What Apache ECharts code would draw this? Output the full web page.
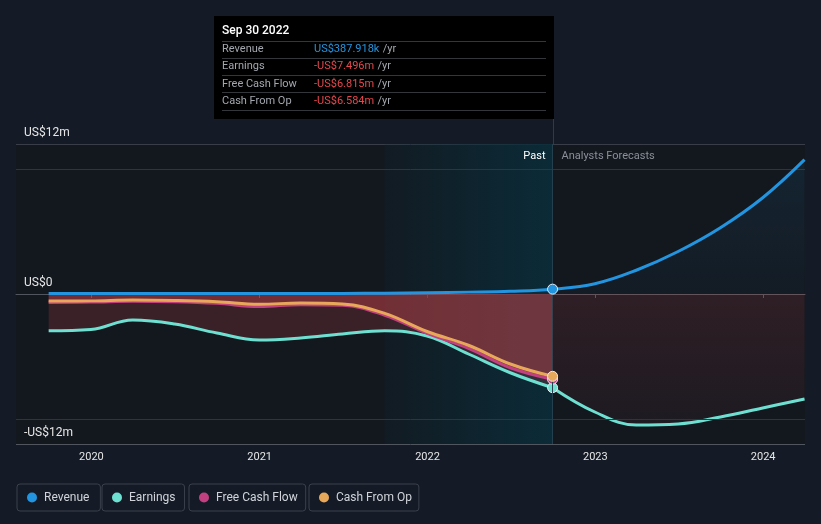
<!DOCTYPE html>
<html><head><meta charset="utf-8">
<script src="https://cdn.jsdelivr.net/npm/echarts@6/dist/echarts.min.js"></script>
<style>html,body{margin:0;padding:0;background:#151b26;}#c{width:821px;height:524px;}</style>
</head><body><div id="c"></div>
<script>
// ---- data (US$ millions) ----
const pastDates = ['2019-09-30','2019-12-31','2020-03-31','2020-06-30','2020-09-30','2020-12-31','2021-03-31','2021-06-30','2021-09-30','2021-12-31','2022-03-31','2022-06-30','2022-09-30'];
const revenuePast = [0.05,0.05,0.05,0.05,0.05,0.05,0.05,0.05,0.06,0.1,0.15,0.22,0.388];
const earningsPast = [-2.94,-2.84,-2.08,-2.4,-3.12,-3.68,-3.52,-3.2,-2.94,-3.36,-4.8,-6.3,-7.496];
const fcfPast = [-0.68,-0.65,-0.58,-0.62,-0.75,-1.0,-0.85,-0.9,-1.7,-3.15,-4.35,-5.9,-6.815];
const cfoPast = [-0.56,-0.55,-0.48,-0.52,-0.62,-0.82,-0.72,-0.8,-1.55,-3.0,-4.1,-5.6,-6.584];
const forecastDates = ['2022-09-30','2022-12-31','2023-03-31','2023-06-30','2023-09-30','2023-12-31','2024-03-31'];
const revenueForecast = [0.388,0.82,1.9,3.4,5.3,7.7,10.75];
const earningsForecast = [-7.496,-9.44,-10.48,-10.4,-9.84,-9.12,-8.4];
const yearTicks = ['2020','2021','2022','2023','2024'];
const yTickValues = [-12,0,12];
const yTickLabels = ['-US$12m','US$0','US$12m'];
const gridLevels = [10,-10];
const highlightStart = '2021-09-30';
const lastReported = '2022-09-30';
const axisStart = '2019-07-21';
const axisEnd = '2024-04-01';
const seriesNames = ['Revenue','Earnings','Free Cash Flow','Cash From Op'];
const seriesColors = ['#2394df','#6ee0d2','#c2407f','#e8a85a'];
const tipTitle = 'Sep 30 2022';
const tipLabels = ['Revenue','Earnings','Free Cash Flow','Cash From Op'];
const tipValues = ['US$387.918k','-US$7.496m','-US$6.815m','-US$6.584m'];
const tipValueColors = ['#2394df','#e5484d','#e5484d','#e5484d'];

function pairs(dates, vals, color){
  return dates.map((d,i)=>{
    if(d===lastReported){
      return {value:[d,vals[i]], symbol:'circle', symbolSize:10,
        itemStyle:{color:color, borderColor:'#e8eef2', borderWidth:1}};
    }
    return {value:[d,vals[i]], symbol:'none'};
  });
}
const red = 'rgba(220,70,75,0.28)';

const chart = echarts.init(document.getElementById('c'), null, {renderer:'canvas'});
const legendLefts = [17,102,189,309];
const legendRightPads = [11,9,8,7];
const legends = seriesNames.map((n,i)=>({
  data:[n], left:legendLefts[i], top:484, orient:'horizontal',
  icon:'circle', itemWidth:10, itemHeight:10,
  padding:[6,legendRightPads[i],6,10], borderColor:'#3a404c', borderWidth:1, borderRadius:3,
  textStyle:{color:'#d0d4da', fontSize:12, fontFamily:'Roboto', lineHeight:15, padding:[0,0,0,2]},
  selectedMode:false
}));

const option = {
  animation:false,
  backgroundColor:'#151b26',
  legend: legends,
  grid:{left:16, right:16, top:144, bottom:80, show:true, backgroundColor:'#13181f', borderWidth:0},
  xAxis:{
    type:'time', min:axisStart, max:axisEnd,
    minInterval:365*24*3600*1000,
    axisLine:{lineStyle:{color:'#50555e'}},
    axisTick:{show:true, length:4, lineStyle:{color:'#50555e'}},
    splitLine:{show:false},
    axisLabel:{color:'#e6e6e6', fontSize:11, fontFamily:'Roboto', margin:8,
      showMinLabel:false, showMaxLabel:false,
      formatter:(v)=>{ const d=new Date(v); const y=String(d.getFullYear());
        return (d.getMonth()===0 && d.getDate()===1 && yearTicks.includes(y)) ? y : ''; }}
  },
  yAxis:{
    type:'value', min:-12, max:12, interval:12,
    axisLine:{show:false}, axisTick:{show:false},
    splitLine:{show:true, lineStyle:{color:['#50555e','#ffffff','#383d47'], width:1}},
    axisLabel:{inside:true, color:'#e6e6e6', fontSize:12, fontFamily:'Roboto', verticalAlign:'bottom', padding:[0,0,5,0], margin:8,
      formatter:(v)=>{ const i=yTickValues.indexOf(v); return i>=0?yTickLabels[i]:''; }}
  },
  series:[
    {type:'line', name:'_bg', data:[], z:1, silent:true,
      markArea:{silent:true, itemStyle:{color:{type:'linear',x:0,y:0,x2:1,y2:0,colorStops:[{offset:0,color:'rgba(10,45,58,0.15)'},{offset:1,color:'rgba(10,45,58,0.9)'}]}},
        data:[[{xAxis:highlightStart, yAxis:-12},{xAxis:lastReported, yAxis:12}]]},
      markLine:{silent:true, symbol:'none', label:{show:false},
        data:[
          ...gridLevels.map(v=>({yAxis:v, lineStyle:{color:'#2f343d', width:1, type:'solid'}})),
          {xAxis:lastReported, lineStyle:{color:'#24404e', width:1, type:'solid'}}
        ]}
    },
    {type:'line', name:'Earnings', data:pairs(pastDates, earningsPast, seriesColors[1]), smooth:0.4, z:3,
      lineStyle:{color:seriesColors[1], width:3}, itemStyle:{color:seriesColors[1]}, areaStyle:{color:red, origin:0}},
    {type:'line', name:'Earnings', data:pairs(forecastDates, earningsForecast, seriesColors[1]).map((p,i)=>i===0?{value:p.value,symbol:'none'}:p), smooth:0.4, z:3,
      lineStyle:{color:seriesColors[1], width:3}, itemStyle:{color:seriesColors[1]},
      areaStyle:{origin:0, color:{type:'linear',x:0,y:0,x2:0,y2:1,colorStops:[{offset:0,color:'rgba(220,70,75,0.2)'},{offset:1,color:'rgba(220,70,75,0.07)'}]}}},
    {type:'line', name:'Free Cash Flow', data:pairs(pastDates, fcfPast, seriesColors[2]), smooth:0.4, z:4,
      lineStyle:{color:seriesColors[2], width:3}, itemStyle:{color:seriesColors[2]}, areaStyle:{color:red, origin:0}},
    {type:'line', name:'Cash From Op', data:pairs(pastDates, cfoPast, seriesColors[3]), smooth:0.4, z:5,
      lineStyle:{color:seriesColors[3], width:3}, itemStyle:{color:seriesColors[3]}, areaStyle:{color:red, origin:0}},
    {type:'line', name:'Revenue', data:pairs(pastDates.concat(forecastDates.slice(1)), revenuePast.concat(revenueForecast.slice(1)), seriesColors[0]), smooth:0.4, z:6,
      lineStyle:{color:seriesColors[0], width:3}, itemStyle:{color:seriesColors[0]},
      areaStyle:{origin:0, color:{type:'linear',x:0,y:0,x2:0,y2:1,colorStops:[{offset:0,color:'rgba(35,148,223,0.14)'},{offset:1,color:'rgba(35,148,223,0.04)'}]}}}
  ]
};
chart.setOption(option);

const xDiv = Math.round(chart.convertToPixel({xAxisIndex:0}, lastReported)) + 0.5;
const tipRight = xDiv + 0.5, tipLeft = 214, tipTop = 16, tipBottom = 119;
const g = [
  {type:'line', shape:{x1:xDiv, y1:tipBottom, x2:xDiv, y2:144}, style:{stroke:'#24404e', lineWidth:1}, z:10},
  {type:'rect', shape:{x:tipLeft, y:tipTop, width:tipRight-tipLeft, height:tipBottom-tipTop}, style:{fill:'#000000'}, z:20},
  {type:'text', x:222, y:31, style:{text:tipTitle, fill:'#ffffff', font:'500 12px Roboto', verticalAlign:'middle'}, z:21}
];
const seps = [41,58,75,92,110];
seps.forEach(y=>g.push({type:'line', shape:{x1:222, y1:y+0.5, x2:546, y2:y+0.5}, style:{stroke:'#33363b', lineWidth:1}, z:21}));
tipLabels.forEach((l,i)=>{
  const y = [49,66,84,101][i];
  g.push({type:'text', x:222, y:y, style:{text:l, fill:'#a3a7ae', font:'11px Roboto', verticalAlign:'middle'}, z:21});
  g.push({type:'text', x:314, y:y, style:{text:'{v|'+tipValues[i]+'} {u|/yr}', verticalAlign:'middle',
    rich:{v:{fill:tipValueColors[i], font:'11px Roboto'}, u:{fill:'#a3a7ae', font:'11px Roboto'}}}, z:21});
});
g.push({type:'text', x:xDiv-8, y:156, style:{text:'Past', fill:'#ffffff', font:'11px Roboto', align:'right', verticalAlign:'middle'}, z:21});
g.push({type:'text', x:xDiv+8, y:156, style:{text:'Analysts Forecasts', fill:'#8a8f98', font:'11px Roboto', align:'left', verticalAlign:'middle'}, z:21});
chart.setOption({graphic:g});
</script></body></html>
